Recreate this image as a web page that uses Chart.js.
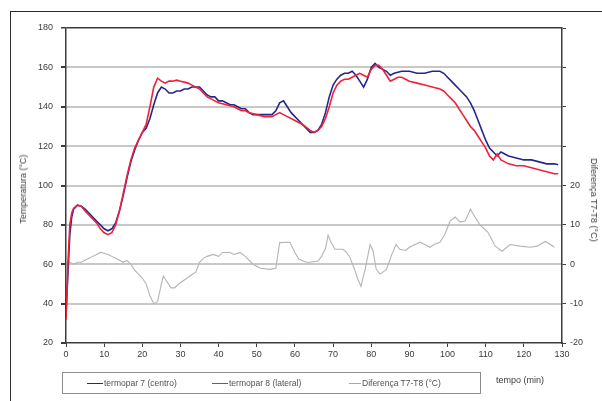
<!DOCTYPE html>
<html>
<head>
<meta charset="utf-8">
<script src="https://cdn.jsdelivr.net/npm/chart.js@4.4.1/dist/chart.umd.min.js"></script>
<style>
  html, body { margin: 0; padding: 0; background: #fff; }
  #wrap { position: relative; width: 602px; height: 401px; overflow: hidden; font-family: "Liberation Sans", Arial, sans-serif; }
  #frame { position: absolute; left: 10px; top: 11px; width: 700px; height: 500px; border-left: 1px solid #2a2a2a; border-top: 1px solid #2a2a2a; }
  canvas { position: absolute; left: 0; top: 0; }
  .ytitle { position: absolute; font-size: 9px; color: #3a3a3a; white-space: nowrap; }
  #legend { position: absolute; left: 62px; top: 372px; width: 417px; height: 20px; border: 1px solid #8c8c8c; background: #fff; }
  .item { position: absolute; top: 0; height: 20px; line-height: 20px; font-size: 8.5px; color: #505050; white-space: nowrap; }
  .swatch { display: inline-block; width: 16px; height: 0; vertical-align: middle; margin-right: 1px; }
  #xtitle { position: absolute; left: 496px; top: 375px; font-size: 9px; color: #3a3a3a; white-space: nowrap; }
</style>
</head>
<body>
<div id="wrap">
  <div id="frame"></div>
  <canvas id="c" width="602" height="401"></canvas>
  <div class="ytitle" id="ytl">Temperatura (°C)</div>
  <div class="ytitle" id="ytr">Diferença T7-T8 (°C)</div>
  <div id="legend">
    <div class="item" style="left:24px"><span class="swatch" style="border-top:1.5px solid #26268a"></span>termopar 7 (centro)</div>
    <div class="item" style="left:149px"><span class="swatch" style="border-top:1.5px solid #f0203a"></span>termopar 8 (lateral)</div>
    <div class="item" style="left:286px"><span class="swatch" style="border-top:1px solid #a8a8a8;width:12px"></span>Diferença T7-T8 (°C)</div>
  </div>
  <div id="xtitle">tempo (min)</div>
</div>
<script>
// Thermocouple 7 (centre) — time in minutes, temperature in °C
const t7Time = [0,0.5,1,1.5,2,3,4,5,6,7,8,9,10,11,12,13,14,15,16,17,18,19,20,21,22,23,24,25,26,27,28,29,30,31,32,33,34,35,36,37,38,39,40,41,42,43,44,45,46,47,48,49,50,51,52,53,54,55,56,57,58,59,60,61,62,63,64,65,66,67,68,69,70,71,72,73,74,75,76,77,78,79,80,81,82,83,84,85,86,88,90,92,94,96,98,99,100,101,102,103,104,105,106,107,108,109,110,111,112,113,114,115,116,118,120,122,124,126,128,129];
const t7Temp = [34,55,75,84,88,90,89.5,88,86,84,82,80,78,77,78,81,87,95,104,112,118,123,127,129,134,141,147,150,149,147,147,148,148,149,149,150,150,150,148,146,145,145,143,143,142,141,141,140,139,139,137,136,136,136,136,136,136,138,142,143,140,137,135,133,131,129,127,127,128,131,137,145,151,154,156,157,157,158,156,153,150,154,160,162,160,159,158,156,157,158,158,157,157,158,158,157,155,153,151,149,147,145,142,138,133,128,123,119,117,115,117,116,115,114,113,113,112,111,111,110.5];

// Thermocouple 8 (lateral)
const t8Time = [0,0.5,1,1.5,2,3,4,5,6,7,8,9,10,11,12,13,14,15,16,17,18,19,20,21,22,23,24,25,26,27,28,29,30,31,32,33,34,35,36,37,38,39,40,42,44,45,46,47,48,50,52,54,55,56,57,58,60,62,64,65,66,67,68,69,70,71,72,73,74,75,76,77,78,79,80,81,82,83,84,85,86,87,88,90,92,94,96,98,99,100,101,102,103,104,105,106,107,108,109,110,111,112,113,114,115,116,118,120,122,124,126,128,129];
const t8Temp = [32,60,80,86,88.5,90,89.5,87,85,83,81,78,76,75,76,80,87,96,105,113,119,123,127,131,140,150,154.5,153,152,153,153,153.5,153,152.5,152,151,150,149,147,145,144,143,142,141,140,139,138,138,137,136,135,135,136,137,136,135,133,131,128,127,128,130,134,140,147,151,153,154,154,155,156,157,156,155,159,161,161,159,156,153,154,155,155,153,152,151,150,149,148,146,144,142,139,136,133,130,128,125,122,119,115,113,116,113,112,111,110,110,109,108,107,106,106];

// Difference T7 - T8 (right axis)
const diffTime = [0,1,2,3,4,5,6,7,8,9,10,11,12,13,14,15,16,17,18,19,20,21,22,23,24,25,25.5,26.5,27.5,28.5,29.5,31,32.5,34,35,36,37,38.6,40,41,43,44,45.6,47,49,50,51,53.5,55,56,58.7,60,61,63,64,66,67,68,68.7,69.5,70.5,72.6,73.5,74.4,75.5,76.5,77.3,78.4,79.7,80.5,81.3,82.3,84,85.4,86.5,87.5,89,90,91.5,92.8,94,95.4,96.5,98,99.3,100.7,102,103.3,104.6,106,107.2,108.5,110.6,112.5,114.3,116.4,119,121.6,123.5,125.6,127,128];
const diffVal = [1,0.5,0,0.5,0.5,1,1.5,2,2.5,3,2.8,2.5,2,1.5,1,0.5,1,0,-1.5,-2.5,-3.5,-5,-8,-10,-9.5,-5,-3,-4.5,-6,-6,-5,-4,-3,-2,0.5,1.5,2,2.5,2,3,3,2.5,3,2,0,-0.5,-1,-1.3,-1,5.5,5.6,3,1.3,0.5,0.5,0.8,2,4,7.4,5.5,3.8,3.8,3,1.8,-1,-3.8,-5.6,-1.3,5,3.3,-1.3,-2.5,-1.3,2.5,5,3.8,3.5,4.3,5,5.6,5,4.3,5,5.6,7.6,11,12,10.7,11,14,12,10,8.1,4.6,3.3,5,4.6,4.3,4.6,5.8,5,4.3];

// Axis ranges and tick steps
const tempTicks = { min: 20, max: 180, step: 20 };
const diffTicks = { min: -20, max: 60, step: 10, lastLabel: 20 };
const timeTicks = { min: 0, max: 130, step: 10 };

const pts = (xs, ys) => xs.map((x, i) => ({ x, y: ys[i] }));

const tickFont = { family: '"Liberation Sans", Arial, sans-serif', size: 9 };
const axisDark = '#3c3c3c';

new Chart(document.getElementById('c'), {
  type: 'line',
  data: {
    datasets: [
      { label: 'termopar 7 (centro)', data: pts(t7Time, t7Temp), borderColor: '#26268a', borderWidth: 1.6, yAxisID: 'y', order: 2 },
      { label: 'termopar 8 (lateral)', data: pts(t8Time, t8Temp), borderColor: '#f0203a', borderWidth: 1.6, yAxisID: 'y', order: 1 },
      { label: 'Diferença T7-T8 (°C)', data: pts(diffTime, diffVal), borderColor: '#b4b4b4', borderWidth: 1.1, yAxisID: 'y2', order: 3 }
    ]
  },
  options: {
    responsive: false,
    animation: false,
    parsing: false,
    elements: { point: { radius: 0 }, line: { tension: 0, fill: false } },
    layout: { padding: { top: 28, left: 0, right: 0, bottom: 0 } },
    plugins: { legend: { display: false }, tooltip: { enabled: false } },
    scales: {
      x: {
        type: 'linear',
        min: timeTicks.min, max: timeTicks.max,
        afterFit: s => { s.height = 58; },
        ticks: { stepSize: timeTicks.step, color: '#3a3a3a', font: tickFont, padding: 2, maxRotation: 0 },
        grid: { drawOnChartArea: false, drawTicks: true, tickLength: 4, tickColor: axisDark },
        border: { display: true, color: axisDark, width: 1.5 }
      },
      y: {
        position: 'left',
        min: tempTicks.min, max: tempTicks.max,
        afterFit: s => { s.width = 66; },
        ticks: { stepSize: tempTicks.step, color: '#3a3a3a', font: tickFont, padding: 8 },
        grid: {
          color: c => (c.tick && c.tick.value === tempTicks.max) ? axisDark : (c.tick && c.tick.value === tempTicks.min ? 'rgba(0,0,0,0)' : '#c8c8c8'),
          lineWidth: c => (c.tick && c.tick.value === tempTicks.max) ? 1.5 : 2,
          tickColor: axisDark, tickLength: 5
        },
        border: { display: true, color: axisDark, width: 1.5 }
      },
      y2: {
        position: 'right',
        min: diffTicks.min, max: diffTicks.max,
        afterFit: s => { s.width = 40; },
        ticks: { stepSize: diffTicks.step, color: '#3a3a3a', font: tickFont, padding: 4,
          callback: v => (v <= diffTicks.lastLabel ? String(v) : '') },
        grid: { drawOnChartArea: false, tickColor: axisDark, tickLength: 4 },
        border: { display: true, color: axisDark, width: 1.5 }
      }
    }
  }
});

// Rotated axis titles
const ytl = document.getElementById('ytl');
ytl.style.left = '23px'; ytl.style.top = '189px';
ytl.style.transform = 'translate(-50%, -50%) rotate(-90deg)';
const ytr = document.getElementById('ytr');
ytr.style.left = '594px'; ytr.style.top = '200px';
ytr.style.transform = 'translate(-50%, -50%) rotate(90deg)';
</script>
</body>
</html>
